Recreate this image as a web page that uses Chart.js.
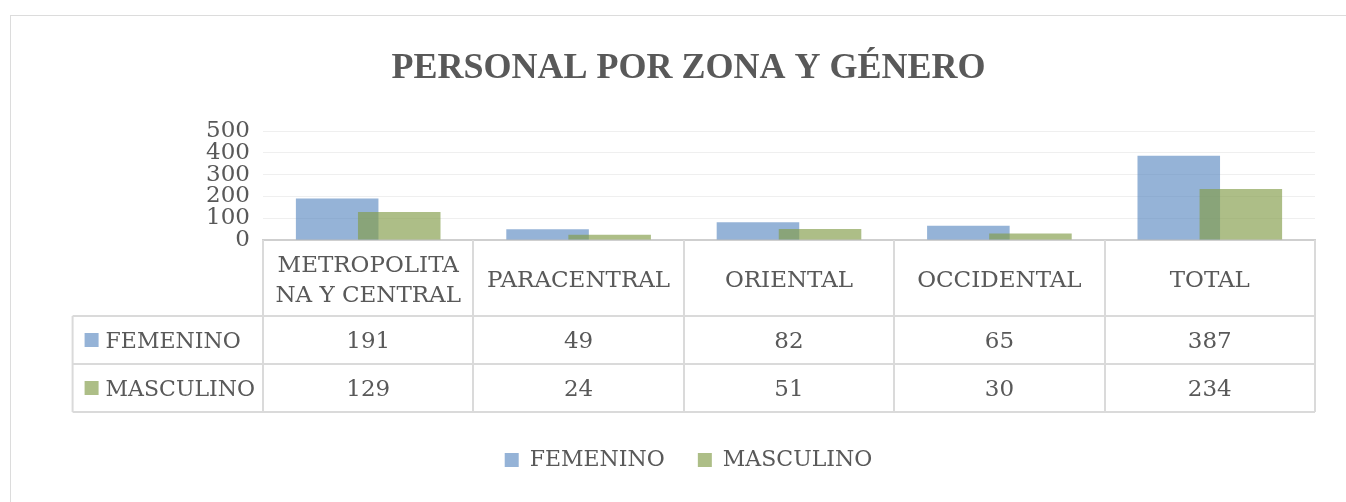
<!DOCTYPE html>
<html lang="es">
<head>
<meta charset="utf-8">
<title>Personal por zona y género</title>
<script src="https://cdn.jsdelivr.net/npm/chart.js@4.4.1/dist/chart.umd.min.js"></script>
<style>
  html, body { margin: 0; padding: 0; background: #fff; overflow: hidden; }
  .frame { position: absolute; left: 10px; top: 15px; width: 1400px; height: 600px; border: 1px solid #dcdcdc; }
  #chart { position: absolute; left: 0; top: 0; }
</style>
</head>
<body>
<div class="frame"></div>
<canvas id="chart" width="1346" height="502"></canvas>
<script>
// ---- data ----
const TITLE = 'PERSONAL POR ZONA Y GÉNERO';
const zonas = [['METROPOLITA', 'NA Y CENTRAL'], 'PARACENTRAL', 'ORIENTAL', 'OCCIDENTAL', 'TOTAL'];
const femenino = [191, 49, 82, 65, 387];
const masculino = [129, 24, 51, 30, 234];
const seriesNames = ['FEMENINO', 'MASCULINO'];
const yTicks = [0, 100, 200, 300, 400, 500];

const TEXT = '#595959';
const LINE = '#dadada';
const BLUE = 'rgba(79,129,189,0.6)';
const GREEN = 'rgba(131,157,73,0.66)';
const FONT = "'DejaVu Serif', serif";

// bars: femenino first, masculino painted over it (like the Excel overlap)
const drawOrder = {
  id: 'drawOrder',
  beforeDatasetsDraw(chart) {
    chart.data.datasets.forEach((_, i) => chart.getDatasetMeta(i).controller.draw());
    return false;
  }
};

// Excel-style data table under the axis
const dataTable = {
  id: 'dataTable',
  afterDraw(chart) {
    const { ctx, chartArea, scales: { x } } = chart;
    const cw = x.getPixelForValue(1) - x.getPixelForValue(0);
    const top = chartArea.bottom;
    const headH = 76, rowH = 48;
    const labelLeft = chartArea.left - cw * 0.905;
    const right = chartArea.right;
    const bottom = top + headH + rowH * seriesNames.length;

    ctx.save();
    ctx.strokeStyle = LINE;
    ctx.lineWidth = 2;
    ctx.beginPath();
    // vertical lines at category edges
    for (let i = 0; i <= zonas.length; i++) {
      const px = Math.round(x.getPixelForValue(i) - cw / 2);
      ctx.moveTo(px, top); ctx.lineTo(px, bottom);
    }
    ctx.moveTo(labelLeft, top + headH); ctx.lineTo(labelLeft, bottom);
    for (let r = 0; r <= seriesNames.length; r++) {
      const py = Math.round(top + headH + r * rowH);
      ctx.moveTo(labelLeft, py); ctx.lineTo(right, py);
    }
    ctx.stroke();

    ctx.fillStyle = TEXT;
    ctx.font = '23px ' + FONT;
    ctx.textAlign = 'center';
    ctx.textBaseline = 'middle';
    zonas.forEach((z, i) => {
      const cx = x.getPixelForValue(i);
      const lines = Array.isArray(z) ? z : [z];
      lines.forEach((ln, k) => {
        ctx.fillText(ln, cx, top + headH / 2 + 3 + (k - (lines.length - 1) / 2) * 30);
      });
    });

    const rows = [femenino, masculino];
    const colors = [BLUE, GREEN];
    rows.forEach((vals, r) => {
      const cy = top + headH + rowH * r + rowH / 2 + 2;
      ctx.font = '23px ' + FONT;
      vals.forEach((v, i) => {
        ctx.textAlign = 'center';
        ctx.fillText(String(v), x.getPixelForValue(i), cy);
      });
      ctx.fillStyle = colors[r];
      ctx.fillRect(labelLeft + 12, cy - 9, 14, 14);
      ctx.fillStyle = TEXT;
      ctx.textAlign = 'left';
      ctx.font = '22px ' + FONT;
      ctx.fillText(seriesNames[r], labelLeft + 33, cy);
    });
    ctx.restore();
  }
};

new Chart(document.getElementById('chart'), {
  type: 'bar',
  data: {
    labels: zonas,
    datasets: [
      { label: seriesNames[0], data: femenino, backgroundColor: BLUE, borderWidth: 0 },
      { label: seriesNames[1], data: masculino, backgroundColor: GREEN, borderWidth: 0 }
    ]
  },
  options: {
    responsive: false,
    animation: false,
    events: [],
    layout: { padding: { left: 62, right: 31, top: 0, bottom: 21 } },
    datasets: { bar: { categoryPercentage: 0.59, barPercentage: 1.33 } },
    plugins: {
      title: {
        display: true, text: TITLE, color: TEXT,
        font: { family: "'Liberation Serif', serif", size: 36, weight: 'bold' },
        padding: { top: 47, bottom: 41 }
      },
      legend: {
        position: 'bottom',
        labels: { boxWidth: 14, boxHeight: 14, padding: 33, color: TEXT, font: { family: FONT, size: 22 } }
      },
      tooltip: { enabled: false }
    },
    scales: {
      x: {
        grid: { display: false },
        border: { display: true, color: '#cfcfcf', width: 2 },
        ticks: { display: false },
        afterFit(s) { s.height = 176; }
      },
      y: {
        min: yTicks[0], max: yTicks[yTicks.length - 1],
        afterBuildTicks(s) { s.ticks = yTicks.map(v => ({ value: v })); },
        ticks: { autoSkip: false, padding: 13, color: TEXT, font: { family: FONT, size: 23 } },
        grid: { color: '#efefef', drawTicks: false },
        border: { display: false },
        afterFit(s) { s.width = 201; }
      }
    }
  },
  plugins: [drawOrder, dataTable]
});
</script>
</body>
</html>
